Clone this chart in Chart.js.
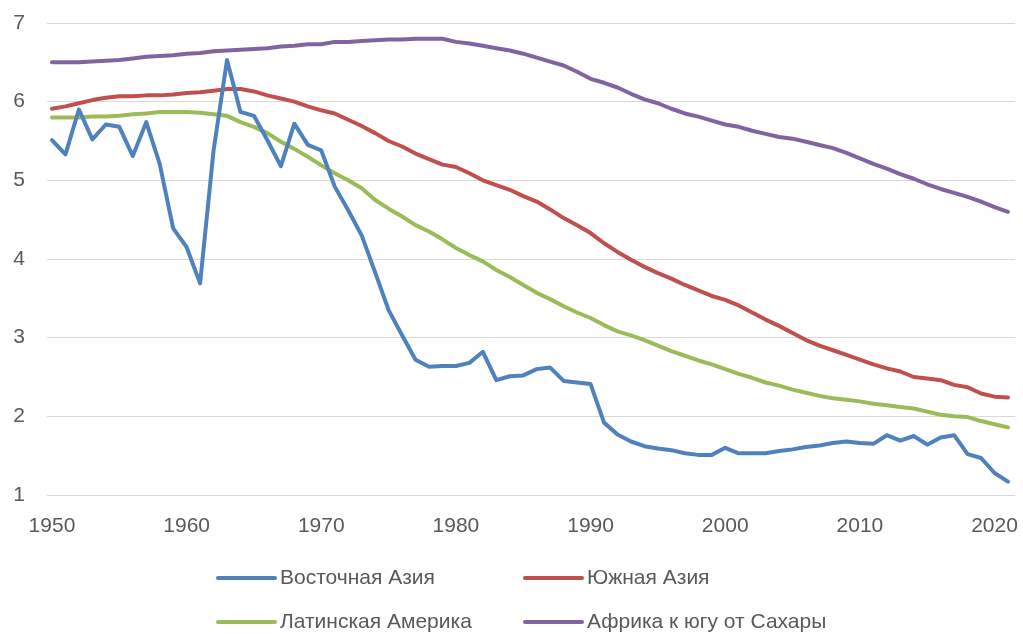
<!DOCTYPE html>
<html>
<head>
<meta charset="utf-8">
<script src="https://cdn.jsdelivr.net/npm/chart.js@4"></script>
<style>
  body { margin: 0; background: #fff; }
  canvas { display: block; }
</style>
</head>
<body>
<canvas id="chart" width="1023" height="634"></canvas>
<script>
const years = [];
for (let y = 1950; y <= 2021; y++) years.push(y);

const xTicks = [1950, 1960, 1970, 1980, 1990, 2000, 2010, 2020];
const yTicks = [1, 2, 3, 4, 5, 6, 7];

const labels = ["Восточная Азия", "Южная Азия", "Латинская Америка", "Африка к югу от Сахары"];
const colors = ["#4F81BD", "#C0504D", "#9BBB59", "#8064A2"];

const eastAsia = [
  5.51, 5.33, 5.90, 5.52, 5.71, 5.68, 5.31, 5.74, 5.21, 4.39,
  4.15, 3.69, 5.38, 6.53, 5.87, 5.82, 5.51, 5.18, 5.72, 5.45,
  5.38, 4.92, 4.62, 4.30, 3.83, 3.35, 3.03, 2.72, 2.63, 2.64,
  2.64, 2.68, 2.82, 2.46, 2.51, 2.52, 2.60, 2.62, 2.45, 2.43,
  2.41, 1.92, 1.77, 1.68, 1.62, 1.59, 1.57, 1.53, 1.51, 1.51,
  1.60, 1.53, 1.53, 1.53, 1.56, 1.58, 1.61, 1.63, 1.66, 1.68,
  1.66, 1.65, 1.76, 1.69, 1.75, 1.64, 1.73, 1.76, 1.52, 1.47,
  1.28, 1.17
];
const southAsia = [
  5.91, 5.94, 5.98, 6.02, 6.05, 6.07, 6.07, 6.08, 6.08, 6.09,
  6.11, 6.12, 6.14, 6.16, 6.16, 6.13, 6.08, 6.04, 6.00, 5.94,
  5.89, 5.85, 5.77, 5.69, 5.60, 5.50, 5.43, 5.34, 5.27, 5.20,
  5.17, 5.09, 5.00, 4.94, 4.88, 4.80, 4.73, 4.63, 4.52, 4.43,
  4.33, 4.20, 4.09, 3.99, 3.90, 3.82, 3.75, 3.67, 3.60, 3.53,
  3.48, 3.41, 3.32, 3.23, 3.15, 3.06, 2.97, 2.90, 2.84, 2.78,
  2.72, 2.66, 2.61, 2.57, 2.50, 2.48, 2.46, 2.40, 2.37, 2.29,
  2.25, 2.24
];
const latinAmerica = [
  5.80, 5.80, 5.80, 5.81, 5.81, 5.82, 5.84, 5.85, 5.87, 5.87,
  5.87, 5.86, 5.84, 5.82, 5.74, 5.68, 5.60, 5.49, 5.40, 5.30,
  5.19, 5.09, 5.00, 4.90, 4.75, 4.64, 4.54, 4.43, 4.35, 4.25,
  4.14, 4.05, 3.97, 3.86, 3.77, 3.67, 3.57, 3.49, 3.40, 3.32,
  3.25, 3.16, 3.08, 3.03, 2.97, 2.90, 2.83, 2.77, 2.71, 2.66,
  2.60, 2.54, 2.49, 2.43, 2.39, 2.34, 2.30, 2.26, 2.23, 2.21,
  2.19, 2.16, 2.14, 2.12, 2.10, 2.06, 2.02, 2.00, 1.99, 1.94,
  1.90, 1.86
];
const subSaharan = [
  6.50, 6.50, 6.50, 6.51, 6.52, 6.53, 6.55, 6.57, 6.58, 6.59,
  6.61, 6.62, 6.64, 6.65, 6.66, 6.67, 6.68, 6.70, 6.71, 6.73,
  6.73, 6.76, 6.76, 6.77, 6.78, 6.79, 6.79, 6.80, 6.80, 6.80,
  6.76, 6.74, 6.71, 6.68, 6.65, 6.61, 6.56, 6.51, 6.46, 6.38,
  6.29, 6.24, 6.18, 6.10, 6.03, 5.98, 5.91, 5.85, 5.81, 5.76,
  5.71, 5.68, 5.63, 5.59, 5.55, 5.53, 5.49, 5.45, 5.41, 5.35,
  5.28, 5.21, 5.15, 5.08, 5.02, 4.95, 4.89, 4.84, 4.79, 4.73,
  4.66, 4.60
];

const series = [eastAsia, southAsia, latinAmerica, subSaharan];

const font = { family: "'Liberation Sans', Arial, sans-serif", size: 21 };
const textColor = "#595959";

// legend in two columns under the plot, like the Excel one
const legend2col = {
  id: "legend2col",
  afterDraw(chart) {
    const ctx = chart.ctx;
    const colX = [218, 525];
    const rowY = [578, 622];
    ctx.save();
    ctx.font = font.size + "px " + font.family;
    ctx.textBaseline = "middle";
    ctx.fillStyle = textColor;
    chart.data.datasets.forEach((ds, i) => {
      const x = colX[i % 2];
      const y = rowY[Math.floor(i / 2)];
      ctx.strokeStyle = ds.borderColor;
      ctx.lineWidth = 4;
      ctx.lineCap = "round";
      ctx.beginPath();
      ctx.moveTo(x, y);
      ctx.lineTo(x + 57, y);
      ctx.stroke();
      ctx.fillText(ds.label, x + 62, y);
    });
    ctx.restore();
  }
};

function noPad(scale) {
  scale.paddingTop = 0;
  scale.paddingBottom = 0;
  scale.paddingLeft = 0;
  scale.paddingRight = 0;
}

new Chart(document.getElementById("chart").getContext("2d"), {
  type: "line",
  data: {
    datasets: series.map((vals, i) => ({
      label: labels[i],
      data: vals.map((v, j) => ({ x: years[j], y: v })),
      borderColor: colors[i],
      backgroundColor: colors[i],
      borderWidth: 4,
      pointRadius: 0,
      tension: 0,
      borderJoinStyle: "round",
      borderCapStyle: "round"
    }))
  },
  options: {
    responsive: false,
    animation: false,
    layout: { padding: { top: 23, right: 8, left: 0, bottom: 0 } },
    plugins: { legend: { display: false }, tooltip: { enabled: false } },
    scales: {
      x: {
        type: "linear",
        min: 1949.63,
        max: 2021.52,
        grid: { display: false },
        border: { display: false },
        afterBuildTicks: (scale) => { scale.ticks = xTicks.map(v => ({ value: v })); },
        afterFit: (scale) => { scale.height = 139; noPad(scale); },
        ticks: { font, color: textColor, padding: 11, maxRotation: 0, autoSkip: false, callback: v => String(v) }
      },
      y: {
        min: 1,
        max: 7,
        afterBuildTicks: (scale) => { scale.ticks = yTicks.map(v => ({ value: v })); },
        afterFit: (scale) => { scale.width = 47; noPad(scale); },
        grid: { color: "#d9d9d9", lineWidth: 1, drawTicks: false },
        border: { display: false },
        ticks: { font, color: textColor, padding: 22 }
      }
    }
  },
  plugins: [legend2col]
});
</script>
</body>
</html>
